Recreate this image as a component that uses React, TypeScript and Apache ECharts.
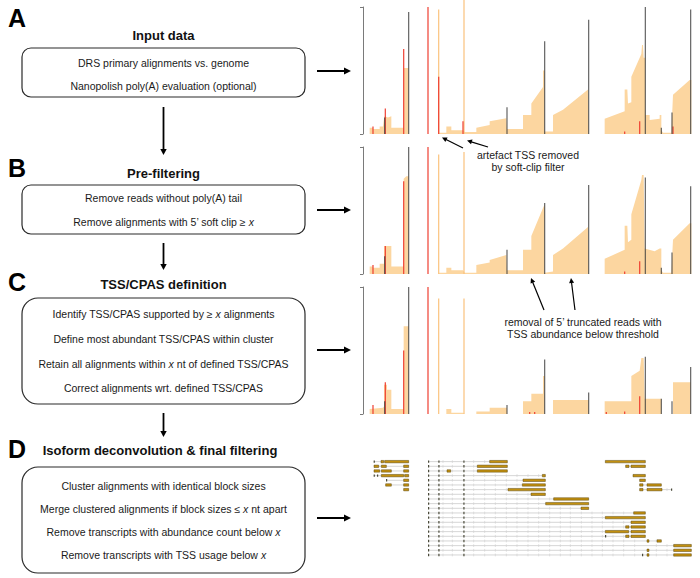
import { useEffect, useRef } from "react";
import * as echarts from "echarts";

const FONT = '"Liberation Sans", Arial, Helvetica, sans-serif';

// ---------------- Flow chart text ----------------
const panelLetters = ["A", "B", "C", "D"];
const stepTitles = [
  "Input data",
  "Pre-filtering",
  "TSS/CPAS definition",
  "Isoform deconvolution & final filtering",
];
const stepLines = [
  ["DRS primary alignments vs. genome", "Nanopolish poly(A) evaluation (optional)"],
  ["Remove reads without poly(A) tail", "Remove alignments with 5’ soft clip ≥ {i|x}"],
  [
    "Identify TSS/CPAS supported by ≥ {i|x} alignments",
    "Define most abundant TSS/CPAS within cluster",
    "Retain all alignments within {i|x} nt of defined TSS/CPAS",
    "Correct alignments wrt. defined TSS/CPAS",
  ],
  [
    "Cluster alignments with identical block sizes",
    "Merge clustered alignments if block sizes ≤ {i|x} nt apart",
    "Remove transcripts with abundance count below {i|x}",
    "Remove transcripts with TSS usage below {i|x}",
  ],
];
const annotationA = ["artefact TSS removed", "by soft-clip filter"];
const annotationB = ["removal of 5’ truncated reads with", "TSS abundance below threshold"];

// ---------------- Coverage tracks ----------------
const POS_MIN = 100;
const POS_MAX = 1090;
const DEPTH_MAX = 100;

// [genomic position, depth (% of track max)]
const coverageInput = [
  [[120, 0], [120, 5], [130, 5], [130, 4], [150, 4], [150, 6], [160, 6], [163, 12], [165, 14], [175, 13], [185, 14], [185, 5], [222, 5], [222, 52], [237, 52], [237, 0]],
  [[327, 0], [327, 1], [350, 1], [350, 6], [365, 6], [365, 3], [400, 3], [405, 1.5], [440, 1.5], [440, 5], [480, 7], [480, 10], [530, 12.5], [532, 12.5], [532, 4], [580, 4], [580, 15], [605, 15], [605, 24], [640, 37], [640, 50], [645, 50], [645, 2], [670, 2], [670, 15], [700, 19], [775, 35], [777, 35], [777, 0]],
  [[825, 0], [825, 12], [885, 18], [885, 35], [893, 35], [895, 24], [905, 25], [905, 45], [935, 63], [937, 70], [940, 70], [942, 60], [947, 60], [947, 15], [960, 15], [960, 11], [990, 12], [990, 15], [995, 15], [995, 3], [1000, 1], [1025, 1], [1030, 31], [1080, 42.5], [1085, 42.5], [1085, 0]],
];
const coverageFiltered = [
  [[120, 0], [120, 6], [130, 6], [130, 5], [150, 5], [150, 8], [163, 8], [163, 22], [185, 22], [185, 6], [222, 6], [222, 75], [230, 77], [237, 77], [237, 0]],
  [[327, 0], [327, 1], [350, 1], [350, 5], [365, 5], [365, 3], [400, 3], [405, 1], [440, 1], [440, 7], [480, 9], [480, 11], [530, 15], [532, 15], [532, 3], [580, 3], [580, 19], [605, 19], [605, 30], [640, 52], [645, 55], [645, 1], [670, 2], [670, 15], [700, 20], [775, 37], [777, 37], [777, 0]],
  [[825, 0], [825, 12], [885, 19], [885, 38], [893, 38], [895, 25], [905, 27], [905, 47], [935, 74], [937, 78], [942, 78], [945, 20], [975, 18], [990, 20], [995, 20], [995, 3], [1000, 1], [1025, 1], [1030, 27], [1080, 40], [1085, 40], [1085, 0]],
];
const coverageDefined = [
  [[120, 0], [120, 4], [160, 5], [163, 6], [163, 23], [172, 23], [172, 19], [185, 19], [185, 4], [222, 4], [222, 69], [237, 69], [237, 0]],
  [[350, 0], [350, 4], [365, 4], [365, 1], [400, 1], [405, 0], [440, 0], [440, 2], [480, 2], [480, 5], [532, 5], [532, 0], [580, 0], [580, 10], [605, 10], [605, 16], [640, 16], [640, 30], [645, 30], [645, 0], [670, 0], [670, 11], [777, 11], [777, 0]],
  [[825, 0], [825, 10], [905, 10], [905, 30], [930, 34], [935, 44], [942, 44], [945, 12], [995, 12], [995, 0], [1030, 0], [1030, 25], [1083, 25], [1083, 0]],
];

const ARTEFACT = 0;
const TSS = 1;
const CPAS = 2;
// [position, height (% of track max), kind]
const peaksInput = [
  [130, 6, TSS], [165, 13, CPAS], [167, 20, TSS], [222, 67, TSS], [237, 96, CPAS],
  [295, 100, TSS], [327, 98, ARTEFACT], [327, 45, TSS], [403, 106, ARTEFACT], [400, 10, TSS],
  [532, 21, CPAS], [645, 73, CPAS], [777, 90, CPAS],
  [885, 2, TSS], [930, 10, TSS], [947, 100, CPAS], [995, 5, CPAS], [1027, 17, CPAS], [1030, 6, TSS], [1083, 98, CPAS],
];
const peaksFiltered = [
  [130, 7, TSS], [165, 14, CPAS], [167, 22, TSS], [222, 73, TSS], [237, 100, CPAS],
  [295, 100, TSS], [327, 94, ARTEFACT], [403, 96, ARTEFACT],
  [532, 19, CPAS], [645, 56, CPAS], [777, 70, CPAS],
  [885, 2, TSS], [930, 10, TSS], [947, 76, CPAS], [995, 5, CPAS], [1027, 17, CPAS], [1083, 69, CPAS],
];
const peaksDefined = [
  [130, 7, TSS], [165, 10, CPAS], [167, 25, TSS], [222, 50, TSS], [237, 100, CPAS],
  [295, 100, TSS], [327, 91, ARTEFACT], [403, 91, ARTEFACT],
  [532, 7, CPAS], [600, 1.5, TSS], [615, 1.5, TSS], [645, 43, CPAS], [777, 17, CPAS],
  [830, 1.5, TSS], [885, 2, TSS], [930, 14, TSS], [947, 45, CPAS], [995, 12, CPAS], [1027, 10, CPAS], [1083, 37, CPAS],
];

// ---------------- Isoform models ----------------
const ISOFORM_ROWS = 21;
const leftIsoforms = [
  [[132, 135], [154, 162], [165, 237]],
  [[133, 147], [155, 170], [222, 237]],
  [[133, 150], [155, 185], [222, 237]],
  [[132, 135], [142, 145], [155, 222], [225, 237]],
  [[169, 172], [222, 237]],
  [[168, 185], [222, 237]],
  [[222, 237]],
];
const sharedFirstExons = [[295, 298], [326, 329], [401, 404]];
const mainIsoforms = [
  [[480, 533]],
  [[443, 533]],
  [[352, 363], [443, 533]],
  [[638, 647]],
  [[580, 647]],
  [[578, 647]],
  [[535, 647]],
  [[604, 647]],
  [[672, 777]],
  [[648, 777]],
  [[754, 777]],
  [[912, 947]],
  [[827, 947]],
  [[904, 947]],
  [[888, 898], [904, 947]],
  [[827, 897], [904, 947]],
  [[826, 830], [888, 898], [904, 947]],
  [[952, 958], [982, 995]],
  [[1032, 1085]],
  [[952, 958], [1032, 1085]],
  [[937, 942], [952, 958], [1032, 1085]],
];
const rightIsoforms = [
  [[827, 947]],
  [[888, 898], [904, 947]],
  [],
  [[910, 947]],
  [[930, 947]],
  [[930, 940], [952, 995]],
  [[930, 940], [952, 997], [1024, 1027]],
];
const intronMarks = [340, 368, 432, 465, 497, 530, 562, 595, 627, 660, 692, 722, 755, 787, 818, 850, 882, 915, 980, 1012, 1045];

// ---------------- styles ----------------
const FILL = "#fcd6a0";
const PEAK_COLORS = ["#fbc17a", "#ee3b2d", "#3c3c3c"];
const EXON_FILL = "#c2900f";
const EXON_STROKE = "#5a460e";

function arrowEls(x1: number, y1: number, x2: number, y2: number, lw: number, hl: number, hw: number, color = "#000") {
  const dx = x2 - x1, dy = y2 - y1;
  const len = Math.hypot(dx, dy);
  const ux = dx / len, uy = dy / len;
  const bx = x2 - ux * hl, by = y2 - uy * hl;
  const px = -uy, py = ux;
  return [
    { type: "line", silent: true, shape: { x1, y1, x2: bx + ux * 0.5, y2: by + uy * 0.5 }, style: { stroke: color, lineWidth: lw } },
    {
      type: "polygon", silent: true,
      shape: { points: [[x2, y2], [bx + px * hw, by + py * hw], [bx - px * hw, by - py * hw]] },
      style: { fill: color },
    },
  ];
}

function textEl(x: number, y: number, text: string, size: number, weight: string, align = "center", color = "#1a1a1a") {
  return {
    type: "text", silent: true, x, y,
    style: {
      text, fill: color, fontSize: size, fontFamily: FONT, fontWeight: weight,
      align, verticalAlign: "middle", textAlign: align, textVerticalAlign: "middle",
      rich: { i: { fontStyle: "italic", fontSize: size, fontFamily: FONT, fill: color } },
    },
  };
}

export default function App() {
  const ref = useRef<HTMLDivElement>(null);

  useEffect(() => {
    if (!ref.current) return;
    const chart = echarts.init(ref.current, undefined, { renderer: "svg" });

    // ---- layout ----
    const BOX_X = 22, BOX_W = 283, CX = 163.5;
    const steps = [
      { letterY: 18, titleX: CX, titleY: 35, boxY: 48, boxH: 49, r: 9, lineYs: [63, 86] },
      { letterY: 168, titleX: CX, titleY: 173, boxY: 185, boxH: 49, r: 9, lineYs: [198, 222] },
      { letterY: 282, titleX: CX, titleY: 284, boxY: 298, boxH: 106, r: 16, lineYs: [314, 339, 364, 388] },
      { letterY: 449, titleX: 160, titleY: 450, boxY: 467, boxH: 106, r: 16, lineYs: [486, 509, 532, 555] },
    ];
    const hArrowY = [71, 210, 350, 518];
    const vArrows = [[107, 155], [243, 270], [413, 437]];

    const graphics: any[] = [];
    steps.forEach((s, i) => {
      graphics.push(textEl(8, s.letterY, panelLetters[i], 25, "bold", "left", "#000"));
      graphics.push(textEl(s.titleX, s.titleY, stepTitles[i], 13, "bold", "center", "#111"));
      graphics.push({
        type: "rect", silent: true,
        shape: { x: BOX_X, y: s.boxY, width: BOX_W, height: s.boxH, r: s.r },
        style: { fill: "#fff", stroke: "#2a2a2a", lineWidth: 1.2 },
      });
      stepLines[i].forEach((ln, j) => graphics.push(textEl(CX, s.lineYs[j], ln, 10.5, "normal")));
      graphics.push(...arrowEls(317, hArrowY[i], 351, hArrowY[i], 2, 7, 3.5));
    });
    vArrows.forEach(([a, b]) => graphics.push(...arrowEls(CX, a, CX, b, 1.8, 6, 3.2)));

    // annotations
    annotationA.forEach((t, j) => graphics.push(textEl(528, 155 + j * 12, t, 10.5, "normal")));
    graphics.push(...arrowEls(463, 148, 442, 137.5, 1.2, 5, 2.5));
    graphics.push(...arrowEls(488, 147, 467, 140.5, 1.2, 5, 2.5));
    annotationB.forEach((t, j) => graphics.push(textEl(583, 322 + j * 12, t, 10.5, "normal")));
    graphics.push(...arrowEls(544, 310, 531, 278, 1.2, 5, 2.5));
    graphics.push(...arrowEls(575, 310, 571, 278, 1.2, 5, 2.5));

    // ---- tracks ----
    const trackTops = [7, 147, 287];
    const coverages = [coverageInput, coverageFiltered, coverageDefined];
    const peaks = [peaksInput, peaksFiltered, peaksDefined];

    const grid: any[] = trackTops.map((top) => ({ left: 363, top, width: 330, height: 127 }));
    grid.push({ left: 363, top: 459.3, width: 330, height: 98 });

    const xAxis: any[] = grid.map((_, i) => ({
      type: "value", gridIndex: i, min: POS_MIN, max: POS_MAX, show: false,
    }));
    const yAxis: any[] = trackTops.map((_, i) => ({
      type: "value", gridIndex: i, min: 0, max: DEPTH_MAX, interval: DEPTH_MAX,
      axisLine: { show: true, lineStyle: { color: "#7a7a7a", width: 1 } },
      axisTick: { show: true, inside: false, length: 3, lineStyle: { color: "#7a7a7a", width: 1 } },
      axisLabel: { show: false }, splitLine: { show: false },
    }));
    yAxis.push({ type: "value", gridIndex: 3, min: 0, max: ISOFORM_ROWS, inverse: true, show: false });

    const series: any[] = [];
    coverages.forEach((segs, i) => {
      segs.forEach((seg) => {
        series.push({
          type: "line", xAxisIndex: i, yAxisIndex: i, data: seg, symbol: "none", showSymbol: false,
          silent: true, lineStyle: { width: 0, opacity: 0 }, areaStyle: { color: FILL, opacity: 1 }, z: 1,
        });
      });
      series.push({
        type: "custom", xAxisIndex: i, yAxisIndex: i, data: peaks[i], silent: true, z: 3, clip: false,
        encode: { x: 0, y: 1 },
        renderItem: (_p: any, api: any) => {
          const x = api.value(0), h = api.value(1), kind = api.value(2);
          const p0 = api.coord([x, 0]);
          const p1 = api.coord([x, h]);
          return {
            type: "line", z2: kind,
            shape: { x1: p0[0], y1: p0[1], x2: p1[0], y2: p1[1] },
            style: { stroke: PEAK_COLORS[kind], lineWidth: kind === CPAS ? 1.2 : 1.3, opacity: kind === CPAS ? 0.8 : 0.9 },
          };
        },
      });
    });

    // ---- isoform models ----
    const transcripts: { row: number; exons: number[][] }[] = [];
    leftIsoforms.forEach((ex, r) => ex.length && transcripts.push({ row: r, exons: ex }));
    mainIsoforms.forEach((ex, r) => transcripts.push({ row: r, exons: [...sharedFirstExons, ...ex] }));
    rightIsoforms.forEach((ex, r) => ex.length && transcripts.push({ row: r, exons: ex }));

    series.push({
      type: "custom", xAxisIndex: 3, yAxisIndex: 3, silent: true, clip: false,
      data: transcripts.map((t, i) => [t.exons[0][0], t.row + 0.5, i]),
      encode: { x: 0, y: 1 },
      renderItem: (params: any, api: any) => {
        const t = transcripts[params.dataIndex];
        const yc = api.coord([POS_MIN, t.row + 0.5])[1];
        const start = t.exons[0][0];
        const end = t.exons[t.exons.length - 1][1];
        const cx = (v: number) => api.coord([v, 0])[0];
        const children: any[] = [
          { type: "line", shape: { x1: cx(start), y1: yc, x2: cx(end), y2: yc }, style: { stroke: "#c4c4c4", lineWidth: 0.7 } },
        ];
        intronMarks.forEach((m) => {
          if (m > start && m < end && !t.exons.some(([a, b]) => m >= a && m <= b)) {
            children.push({ type: "line", shape: { x1: cx(m), y1: yc - 1.4, x2: cx(m), y2: yc + 1.4 }, style: { stroke: "#d2d2d2", lineWidth: 0.7 } });
          }
        });
        t.exons.forEach(([a, b]) => {
          const w = cx(b) - cx(a);
          if (w < 1.8) {
            children.push({
              type: "rect", z2: 2,
              shape: { x: cx(a), y: yc - 1.2, width: 1.2, height: 2.4 },
              style: { fill: "#4a4a3a" },
            });
          } else {
            children.push({
              type: "rect", z2: 2,
              shape: { x: cx(a), y: yc - 1.2, width: w, height: 2.4 },
              style: { fill: EXON_FILL, stroke: EXON_STROKE, lineWidth: 0.5 },
            });
          }
        });
        return { type: "group", children };
      },
    });

    chart.setOption({
      animation: false,
      backgroundColor: "#ffffff",
      textStyle: { fontFamily: FONT },
      grid, xAxis, yAxis, series,
      graphic: { elements: graphics },
    });

    return () => chart.dispose();
  }, []);

  return (
    <div
      ref={ref}
      style={{ position: "fixed", left: 0, top: 0, width: 700, height: 578, background: "#fff" }}
    />
  );
}
